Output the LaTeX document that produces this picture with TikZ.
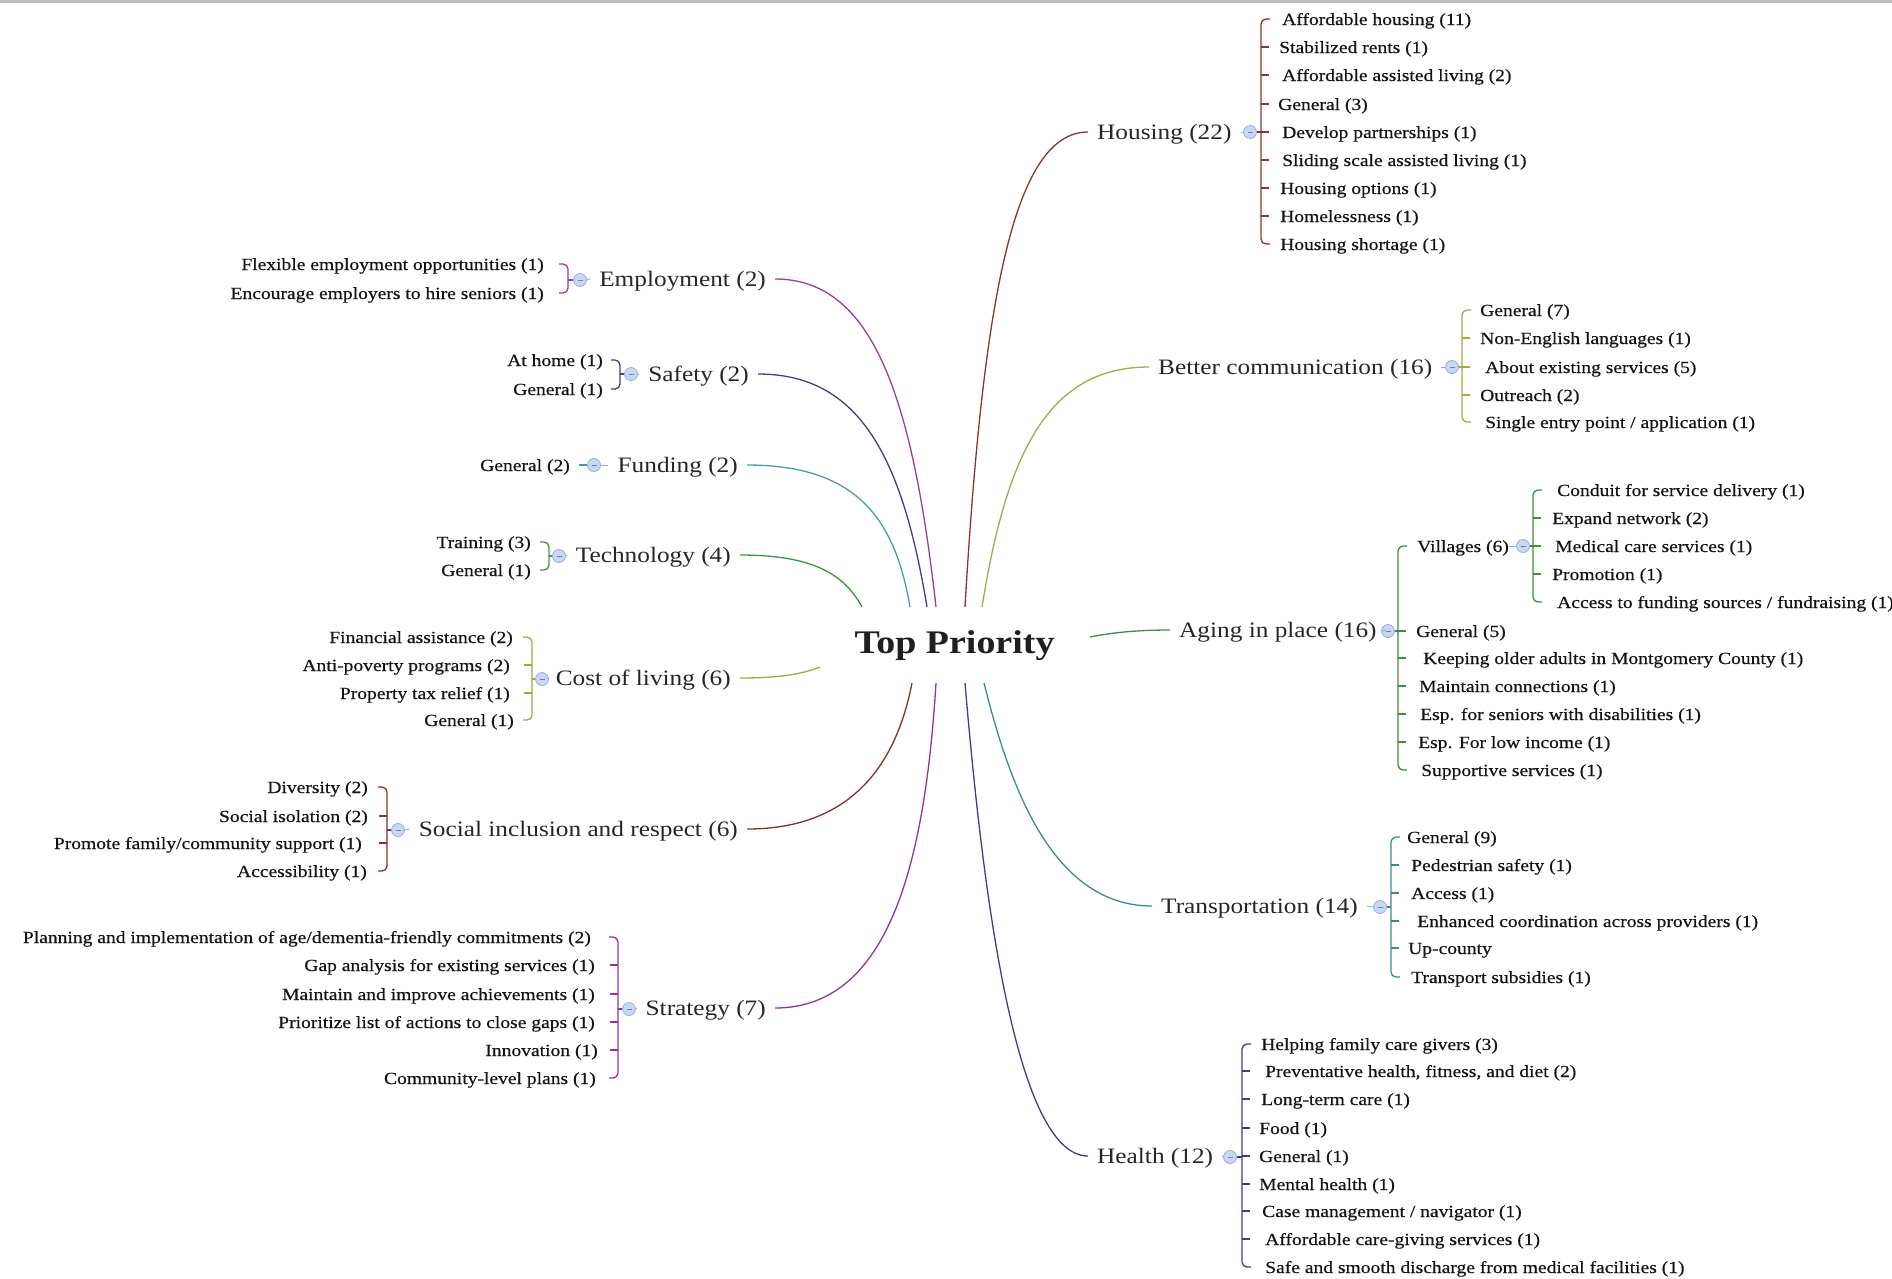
\documentclass[tikz,border=0pt]{standalone}
\usepackage{fontspec}
\setmainfont{Liberation Serif}[FakeStretch=1.15]
\newfontfamily\itemfont{Liberation Serif}[FakeStretch=1.15, FakeBold=0.5]
\usetikzlibrary{calc}
\definecolor{cHous}{RGB}{139,52,52}
\definecolor{cComm}{RGB}{168,168,72}
\definecolor{cAge}{RGB}{62,140,62}
\definecolor{cTrans}{RGB}{58,140,140}
\definecolor{cHealth}{RGB}{62,62,140}
\definecolor{cEmp}{RGB}{150,62,155}
\definecolor{cSafe}{RGB}{62,62,140}
\definecolor{cFund}{RGB}{70,160,160}
\definecolor{cTech}{RGB}{62,150,62}
\definecolor{cCost}{RGB}{165,165,70}
\definecolor{cSoc}{RGB}{139,45,45}
\definecolor{cStrat}{RGB}{150,50,150}
\definecolor{icoF}{RGB}{200,215,242}
\definecolor{icoB}{RGB}{150,175,225}
\definecolor{icoD}{RGB}{110,130,180}
\definecolor{topline}{RGB}{190,190,190}
\tikzset{
  root/.style={font=\fontsize{33}{36}\selectfont\bfseries, text=black!88, inner sep=0},
  topic/.style={font=\fontsize{22}{26}\selectfont, text=black!85, inner xsep=9, inner ysep=0, text height=17, text depth=2},
  item/.style={font=\itemfont\fontsize{17}{20}\selectfont, text=black!92, inner sep=0, text height=14, text depth=2},
  tog/.style={circle, draw=icoB, fill=icoF, minimum size=13, inner sep=0, line width=0.8,
    path picture={\draw[icoD, line width=0.8] ([xshift=-2.5pt]path picture bounding box.center) -- ([xshift=2.5pt]path picture bounding box.center);}},
  conn/.style={line width=1.3},
  stub/.style={icoB, line width=0.9},
}
% right bracket: color, bracket coord, prefix, n
\newcommand{\rbrk}[4]{%
  \draw[#1, conn, rounded corners=5] ($(#2 |- #3-1.west)+(9,0)$) -- (#2 |- #3-1.west) -- (#2 |- #3-#4.west) -- ($(#2 |- #3-#4.west)+(9,0)$);
  \ifnum#4>2
    \pgfmathtruncatemacro\nm{#4-1}%
    \foreach \k in {2,...,\nm} \draw[#1, conn] (#2 |- #3-\k.west) -- ++(8,0);
  \fi}
\newcommand{\lbrk}[4]{%
  \draw[#1, conn, rounded corners=5] ($(#2 |- #3-1.east)+(-9,0)$) -- (#2 |- #3-1.east) -- (#2 |- #3-#4.east) -- ($(#2 |- #3-#4.east)+(-9,0)$);
  \ifnum#4>2
    \pgfmathtruncatemacro\nm{#4-1}%
    \foreach \k in {2,...,\nm} \draw[#1, conn] (#2 |- #3-\k.east) -- ++(-8,0);
  \fi}
\begin{document}
\begin{tikzpicture}[x=1pt,y=-1pt]
\useasboundingbox (0,0) rectangle (1892,1278);
\fill[topline] (0,0) rectangle (1892,2.5);

% root
\node[root, anchor=base] (root) at (954.5,653) {Top Priority};
\coordinate (rTech) at (862,607);
\coordinate (rFund) at (910,607);
\coordinate (rSafe) at (927,607);
\coordinate (rEmp) at (936,607);
\coordinate (rHous) at (965,607);
\coordinate (rComm) at (982,607);
\coordinate (rAge) at (1090,637);
\coordinate (rTrans) at (984,683);
\coordinate (rHealth) at (965,683);
\coordinate (rStrat) at (936,683);
\coordinate (rSoc) at (912,683);
\coordinate (rCost) at (820,667);

% ---------- Housing
\node[topic, anchor=west] (hous) at (1088,132) {Housing (22)};
\node[tog] (housT) at (1250,132) {};
\coordinate (housB) at (1261,132);
\draw[cHous, conn] (rHous) .. controls (983,298) and (1014,132) .. (hous.west);
\draw[stub] (hous.east) -- (housT.west);
\draw[cHous, conn] (housT.east) -- (housB);
\foreach \y/\x/\t [count=\i] in {19/1282/{Affordable housing (11)}, 47/1279/{Stabilized rents (1)}, 75/1282/{Affordable assisted living (2)}, 104/1278/{General (3)}, 132/1282/{Develop partnerships (1)}, 160/1282/{Sliding scale assisted living (1)}, 188/1280/{Housing options (1)}, 216/1280/{Homelessness (1)}, 244/1280/{Housing shortage (1)}}
  \node[item, anchor=west] (hous-\i) at (\x,\y) {\t};
\rbrk{cHous}{housB}{hous}{9}

% ---------- Better communication
\node[topic, anchor=west] (comm) at (1149,367) {Better communication (16)};
\node[tog] (commT) at (1452,367) {};
\coordinate (commB) at (1462,367);
\draw[cComm, conn] (rComm) .. controls (1007,451) and (1049,367) .. (comm.west);
\draw[stub] (comm.east) -- (commT.west);
\draw[cComm, conn] (commT.east) -- (commB);
\foreach \y/\x/\t [count=\i] in {310/1480/{General (7)}, 338/1480/{Non-English languages (1)}, 367/1485/{About existing services (5)}, 395/1480/{Outreach (2)}, 422/1485/{Single entry point / application (1)}}
  \node[item, anchor=west] (comm-\i) at (\x,\y) {\t};
\rbrk{cComm}{commB}{comm}{5}

% ---------- Aging in place
\node[topic, anchor=west] (age) at (1170,630) {Aging in place (16)};
\node[tog] (ageT) at (1388,631) {};
\coordinate (ageB) at (1398,631);
\draw[cAge, conn] (rAge) .. controls (1115,632) and (1140,630) .. (age.west);
\draw[stub] (age.east) -- (ageT.west);
\draw[cAge, conn] (ageT.east) -- (ageB);
\foreach \y/\x/\t [count=\i] in {546/1417/{Villages (6)}, 631/1416/{General (5)}, 658/1423/{Keeping older adults in Montgomery County (1)}, 686/1419/{Maintain connections (1)}, 714/1420/{Esp. for seniors with disabilities (1)}, 742/1418/{Esp. For low income (1)}, 770/1421/{Supportive services (1)}}
  \node[item, anchor=west] (age-\i) at (\x,\y) {\t};
\rbrk{cAge}{ageB}{age}{7}
\node[tog] (vilT) at (1523,546) {};
\coordinate (vilB) at (1533,546);
\draw[stub] (age-1.east) -- (vilT.west);
\draw[cAge, conn] (vilT.east) -- (vilB);
\foreach \y/\x/\t [count=\i] in {490/1557/{Conduit for service delivery (1)}, 518/1552/{Expand network (2)}, 546/1555/{Medical care services (1)}, 574/1552/{Promotion (1)}, 602/1557/{Access to funding sources / fundraising (1)}}
  \node[item, anchor=west] (vil-\i) at (\x,\y) {\t};
\rbrk{cAge}{vilB}{vil}{5}

% ---------- Transportation
\node[topic, anchor=west] (trans) at (1152,906) {Transportation (14)};
\node[tog] (transT) at (1380,907) {};
\coordinate (transB) at (1391,907);
\draw[cTrans, conn] (rTrans) .. controls (1009,783) and (1051,906) .. (trans.west);
\draw[stub] (trans.east) -- (transT.west);
\draw[cTrans, conn] (transT.east) -- (transB);
\foreach \y/\x/\t [count=\i] in {837/1407/{General (9)}, 865/1411/{Pedestrian safety (1)}, 893/1411/{Access (1)}, 921/1417/{Enhanced coordination across providers (1)}, 948/1408/{Up-county}, 977/1411/{Transport subsidies (1)}}
  \node[item, anchor=west] (trans-\i) at (\x,\y) {\t};
\rbrk{cTrans}{transB}{trans}{6}

% ---------- Health
\node[topic, anchor=west] (health) at (1088,1156) {Health (12)};
\node[tog] (healthT) at (1230,1157) {};
\coordinate (healthB) at (1242,1157);
\draw[cHealth, conn] (rHealth) .. controls (983,896) and (1016,1156) .. (health.west);
\draw[stub] (health.east) -- (healthT.west);
\draw[cHealth, conn] (healthT.east) -- (healthB);
\foreach \y/\x/\t [count=\i] in {1044/1261/{Helping family care givers (3)}, 1071/1265/{Preventative health, fitness, and diet (2)}, 1099/1261/{Long-term care (1)}, 1128/1259/{Food (1)}, 1156/1259/{General (1)}, 1184/1259/{Mental health (1)}, 1211/1262/{Case management / navigator (1)}, 1239/1265/{Affordable care-giving services (1)}, 1267/1265/{Safe and smooth discharge from medical facilities (1)}}
  \node[item, anchor=west] (health-\i) at (\x,\y) {\t};
\rbrk{cHealth}{healthB}{health}{9}

% ---------- Employment
\node[topic, anchor=east] (emp) at (775,279) {Employment (2)};
\node[tog] (empT) at (580,280) {};
\coordinate (empB) at (568,280);
\draw[cEmp, conn] (rEmp) .. controls (912,394) and (872,279) .. (emp.east);
\draw[stub] (emp.west) -- (empT.east);
\draw[cEmp, conn] (empT.west) -- (empB);
\foreach \y/\x/\t [count=\i] in {264/544/{Flexible employment opportunities (1)}, 293/544/{Encourage employers to hire seniors (1)}}
  \node[item, anchor=east] (emp-\i) at (\x,\y) {\t};
\lbrk{cEmp}{empB}{emp}{2}

% ---------- Safety
\node[topic, anchor=east] (safe) at (758,374) {Safety (2)};
\node[tog] (safeT) at (631,374) {};
\coordinate (safeB) at (620,374);
\draw[cSafe, conn] (rSafe) .. controls (902,456) and (859,374) .. (safe.east);
\draw[stub] (safe.west) -- (safeT.east);
\draw[cSafe, conn] (safeT.west) -- (safeB);
\foreach \y/\x/\t [count=\i] in {360/603/{At home (1)}, 389/603/{General (1)}}
  \node[item, anchor=east] (safe-\i) at (\x,\y) {\t};
\lbrk{cSafe}{safeB}{safe}{2}

% ---------- Funding
\node[topic, anchor=east] (fund) at (747,465) {Funding (2)};
\node[tog] (fundT) at (594,465) {};
\draw[cFund, conn] (rFund) .. controls (895,520) and (858,465) .. (fund.east);
\draw[stub] (fund.west) -- (fundT.east);
\node[item, anchor=east] (fund-1) at (570,465) {General (2)};
\draw[cFund, conn] (fundT.west) -- ($(fund-1.east)+(9,0)$);

% ---------- Technology
\node[topic, anchor=east] (tech) at (740,555) {Technology (4)};
\node[tog] (techT) at (559,556) {};
\coordinate (techB) at (549,556);
\draw[cTech, conn] (rTech) .. controls (844,574) and (813,555) .. (tech.east);
\draw[stub] (tech.west) -- (techT.east);
\draw[cTech, conn] (techT.west) -- (techB);
\foreach \y/\x/\t [count=\i] in {542/531/{Training (3)}, 570/531/{General (1)}}
  \node[item, anchor=east] (tech-\i) at (\x,\y) {\t};
\lbrk{cTech}{techB}{tech}{2}

% ---------- Cost of living
\node[topic, anchor=east] (cost) at (740,678) {Cost of living (6)};
\node[tog] (costT) at (542,679) {};
\coordinate (costB) at (532,679);
\draw[cCost, conn] (rCost) .. controls (800,675) and (775,678) .. (cost.east);
\draw[stub] (cost.west) -- (costT.east);
\draw[cCost, conn] (costT.west) -- (costB);
\foreach \y/\x/\t [count=\i] in {637/513/{Financial assistance (2)}, 665/510/{Anti-poverty programs (2)}, 693/510/{Property tax relief (1)}, 720/514/{General (1)}}
  \node[item, anchor=east] (cost-\i) at (\x,\y) {\t};
\lbrk{cCost}{costB}{cost}{4}

% ---------- Social inclusion
\node[topic, anchor=east] (soc) at (747,829) {Social inclusion and respect (6)};
\node[tog] (socT) at (398,830) {};
\coordinate (socB) at (387,830);
\draw[cSoc, conn] (rSoc) .. controls (897,760) and (855,829) .. (soc.east);
\draw[stub] (soc.west) -- (socT.east);
\draw[cSoc, conn] (socT.west) -- (socB);
\foreach \y/\x/\t [count=\i] in {787/368/{Diversity (2)}, 816/368/{Social isolation (2)}, 843/362/{Promote family/community support (1)}, 871/367/{Accessibility (1)}}
  \node[item, anchor=east] (soc-\i) at (\x,\y) {\t};
\lbrk{cSoc}{socB}{soc}{4}

% ---------- Strategy
\node[topic, anchor=east] (strat) at (775,1008) {Strategy (7)};
\node[tog] (stratT) at (629,1009) {};
\coordinate (stratB) at (618,1009);
\draw[cStrat, conn] (rStrat) .. controls (925,860) and (890,1008) .. (strat.east);
\draw[stub] (strat.west) -- (stratT.east);
\draw[cStrat, conn] (stratT.west) -- (stratB);
\foreach \y/\x/\t [count=\i] in {937/591/{Planning and implementation of age/dementia-friendly commitments (2)}, 965/595/{Gap analysis for existing services (1)}, 994/595/{Maintain and improve achievements (1)}, 1022/595/{Prioritize list of actions to close gaps (1)}, 1050/598/{Innovation (1)}, 1078/596/{Community-level plans (1)}}
  \node[item, anchor=east] (strat-\i) at (\x,\y) {\t};
\lbrk{cStrat}{stratB}{strat}{6}
\end{tikzpicture}
\end{document}
